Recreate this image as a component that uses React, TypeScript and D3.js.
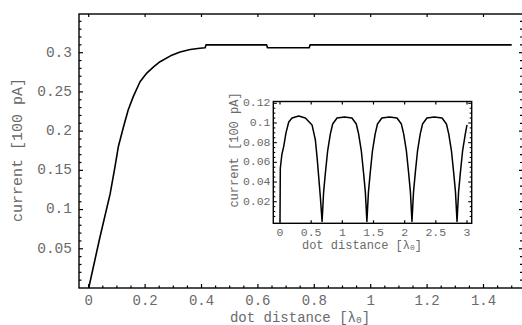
import React from "react";
import * as d3 from "d3";

// Main curve: current vs dot distance
const mainX = [0, 0.04, 0.076, 0.093, 0.105, 0.123, 0.14, 0.158, 0.182, 0.206, 0.23, 0.253, 0.29, 0.324, 0.36, 0.394, 0.413, 0.416, 0.631, 0.634, 0.782, 0.785, 1.5];
const mainY = [0, 0.065, 0.12, 0.154, 0.18, 0.205, 0.227, 0.244, 0.263, 0.274, 0.282, 0.2885, 0.296, 0.301, 0.304, 0.3057, 0.3064, 0.31, 0.31, 0.3064, 0.3064, 0.31, 0.31];

// Inset curve: periodic arches over a wider distance range
const insetX = [
  0, 0.005, 0.03, 0.059, 0.096, 0.14, 0.193, 0.3, 0.407, 0.514, 0.567, 0.595, 0.62, 0.647, 0.675,
  0.7, 0.728, 0.765, 0.808, 0.845, 0.915, 1.035, 1.154, 1.224, 1.261, 1.304, 1.341, 1.369, 1.394,
  1.419, 1.447, 1.484, 1.527, 1.564, 1.634, 1.755, 1.877, 1.947, 1.984, 2.027, 2.064, 2.092, 2.117,
  2.142, 2.17, 2.207, 2.25, 2.287, 2.357, 2.478, 2.6, 2.67, 2.707, 2.75, 2.787, 2.815, 2.84,
  2.865, 2.893, 2.93, 2.973, 3.0,
];
const insetY = [
  0, 0.054, 0.068, 0.076, 0.09, 0.101, 0.105, 0.107, 0.105, 0.098, 0.083, 0.065, 0.046, 0.025, 0,
  0.03, 0.049, 0.072, 0.089, 0.099, 0.105, 0.106, 0.105, 0.099, 0.089, 0.072, 0.049, 0.03, 0,
  0.03, 0.049, 0.072, 0.089, 0.099, 0.105, 0.106, 0.105, 0.099, 0.089, 0.072, 0.049, 0.03, 0,
  0.03, 0.049, 0.072, 0.089, 0.099, 0.105, 0.106, 0.105, 0.099, 0.089, 0.072, 0.049, 0.03, 0,
  0.03, 0.049, 0.072, 0.089, 0.098,
];

const mainXTicks = [0, 0.2, 0.4, 0.6, 0.8, 1, 1.2, 1.4];
const mainXTickLabels = ["0", "0.2", "0.4", "0.6", "0.8", "1", "1.2", "1.4"];
const mainYTicks = [0.05, 0.1, 0.15, 0.2, 0.25, 0.3];
const mainYTickLabels = ["0.05", "0.1", "0.15", "0.2", "0.25", "0.3"];
const insetXTicks = [0, 0.5, 1, 1.5, 2, 2.5, 3];
const insetXTickLabels = ["0", "0.5", "1", "1.5", "2", "2.5", "3"];
const insetYTicks = [0.02, 0.04, 0.06, 0.08, 0.1, 0.12];
const insetYTickLabels = ["0.02", "0.04", "0.06", "0.08", "0.1", "0.12"];

const W = 522;
const H = 325;
const FONT = "'Liberation Mono', 'DejaVu Sans Mono', monospace";
const TEXT = "#6a6a6a";

function range(a: number, b: number, step: number) {
  const out: number[] = [];
  const n = Math.round((b - a) / step);
  for (let i = 0; i <= n; i++) out.push(+(a + i * step).toFixed(6));
  return out;
}

export default function App() {
  // main frame
  const mL = 79, mR = 523, mT = 14, mB = 288;
  const x = d3.scaleLinear().domain([0, 1]).range([88.7, 370.7]);
  const y = d3.scaleLinear().domain([0, 0.3]).range([288, 52.7]);
  const xMin = x.invert(mL), xMax = x.invert(mR);
  const yMax = y.invert(mT);

  // inset frame
  const iL = 273.3, iR = 471.7, iT = 101.5, iB = 223.3;
  const ix = d3.scaleLinear().domain([0, 3]).range([280, 467]);
  const iy = d3.scaleLinear().domain([0, 0.12]).range([221.4, 103.3]);

  const mainLine = d3
    .line<number>()
    .x((_, i) => x(mainX[i]))
    .y((d) => y(d))(mainY);
  const insetLine = d3
    .line<number>()
    .x((_, i) => ix(insetX[i]))
    .y((d) => iy(d))(insetY);

  const mainXMinor = range(0, 1.5, 0.05).filter((v) => v >= xMin && v <= xMax);
  const mainYMinor = range(0, 0.35, 0.01).filter((v) => v > 0 && v <= yMax);
  const insetYMinor = range(0, 0.12, 0.005).filter((v) => v > 0);

  const isMajor = (v: number, step: number) => Math.abs(v / step - Math.round(v / step)) < 1e-6;

  return (
    <svg width={W} height={H} style={{ position: "absolute", left: 0, top: 0, background: "#fff" }}>
      <rect width={W} height={H} fill="#fff" />

      {/* main frame */}
      <rect x={mL} y={mT} width={mR - mL} height={mB - mT} fill="none" stroke="#000" strokeWidth={1.4} />

      {/* main bottom ticks */}
      {mainXMinor.map((v) => {
        const len = isMajor(v, 0.2) ? 4 : 2.5;
        return <line key={"bx" + v} x1={x(v)} x2={x(v)} y1={mB} y2={mB - len} stroke="#000" strokeWidth={1.2} />;
      })}
      {/* main top ticks */}
      {mainXTicks.map((v) => (
        <line key={"tx" + v} x1={x(v)} x2={x(v)} y1={mT} y2={mT + 3} stroke="#000" strokeWidth={1.2} />
      ))}
      {/* main left / right ticks */}
      {mainYMinor.map((v) => {
        const major = isMajor(v, 0.05);
        return (
          <g key={"ly" + v}>
            <line x1={mL} x2={mL + (major ? 4 : 2.5)} y1={y(v)} y2={y(v)} stroke="#000" strokeWidth={1.2} />
            <line x1={mR} x2={mR - (major ? 4 : 3)} y1={y(v)} y2={y(v)} stroke="#000" strokeWidth={1.2} />
          </g>
        );
      })}

      {/* main tick labels */}
      {mainXTicks.map((v, i) => (
        <text key={"xl" + v} x={x(v)} y={301.5} textAnchor="middle" dominantBaseline="middle" fontFamily={FONT} fontSize={14} fill={TEXT}>
          {mainXTickLabels[i]}
        </text>
      ))}
      {mainYTicks.map((v, i) => (
        <text key={"yl" + v} x={72} y={y(v)} textAnchor="end" dominantBaseline="middle" fontFamily={FONT} fontSize={14.5} fill={TEXT}>
          {mainYTickLabels[i]}
        </text>
      ))}

      {/* main axis labels */}
      <text x={300} y={321.5} textAnchor="middle" fontFamily={FONT} fontSize={14} fill={TEXT}>
        dot distance [λ<tspan fontSize={9.5} dy={1.5}>0</tspan><tspan dy={-1.5}>]</tspan>
      </text>
      <text
        transform={`translate(18,150) rotate(-90)`}
        textAnchor="middle"
        dominantBaseline="middle"
        fontFamily={FONT}
        fontSize={15}
        fill={TEXT}
      >
        current [100 pA]
      </text>

      {/* main curve */}
      <path d={mainLine ?? ""} fill="none" stroke="#000" strokeWidth={1.6} strokeLinejoin="round" />

      {/* inset */}
      <rect x={iL} y={iT} width={iR - iL} height={iB - iT} fill="#fff" stroke="#000" strokeWidth={1.4} />
      {insetXTicks.map((v) => (
        <g key={"ixt" + v}>
          <line x1={ix(v)} x2={ix(v)} y1={iB} y2={iB - 3} stroke="#000" strokeWidth={1.2} />
          <line x1={ix(v)} x2={ix(v)} y1={iT} y2={iT + 3} stroke="#000" strokeWidth={1.2} />
        </g>
      ))}
      {insetYMinor.map((v) => {
        const major = isMajor(v, 0.02);
        const len = major ? 3.5 : 2;
        return (
          <g key={"iyt" + v}>
            <line x1={iL} x2={iL + len} y1={iy(v)} y2={iy(v)} stroke="#000" strokeWidth={1.1} />
            <line x1={iR} x2={iR - len} y1={iy(v)} y2={iy(v)} stroke="#000" strokeWidth={1.1} />
          </g>
        );
      })}
      {insetXTicks.map((v, i) => (
        <text key={"ixl" + v} x={ix(v)} y={233} textAnchor="middle" dominantBaseline="middle" fontFamily={FONT} fontSize={11.5} fill={TEXT}>
          {insetXTickLabels[i]}
        </text>
      ))}
      {insetYTicks.map((v, i) => (
        <text key={"iyl" + v} x={270.5} y={iy(v)} textAnchor="end" dominantBaseline="middle" fontFamily={FONT} fontSize={11.5} fill={TEXT}>
          {insetYTickLabels[i]}
        </text>
      ))}
      <text x={362} y={245.5} textAnchor="middle" dominantBaseline="middle" fontFamily={FONT} fontSize={12} fill={TEXT}>
        dot distance [λ<tspan fontSize={8} dy={2.5}>0</tspan><tspan dy={-2.5}>]</tspan>
      </text>
      <text
        transform={`translate(235,150) rotate(-90)`}
        textAnchor="middle"
        dominantBaseline="middle"
        fontFamily={FONT}
        fontSize={12}
        fill={TEXT}
      >
        current [100 pA]
      </text>
      <path d={insetLine ?? ""} fill="none" stroke="#000" strokeWidth={1.5} strokeLinejoin="round" />
    </svg>
  );
}
